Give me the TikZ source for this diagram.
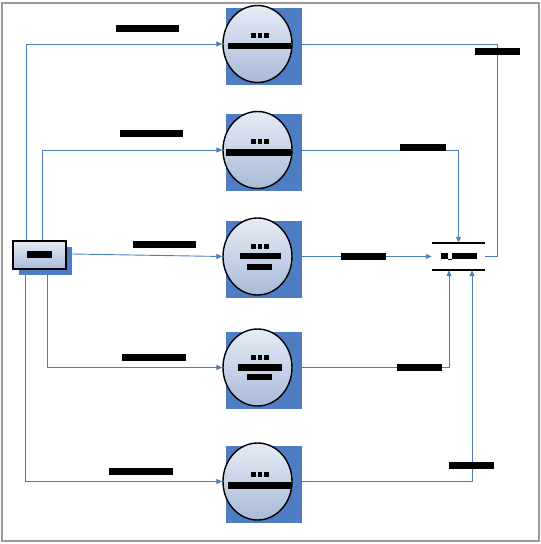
\documentclass[tikz,border=0pt]{standalone}
\usetikzlibrary{arrows.meta,shapes.geometric}
\definecolor{flow}{HTML}{4A7EBB}
\definecolor{shadowblue}{HTML}{4F7DC4}
\definecolor{ctop}{HTML}{E6ECF5}
\definecolor{cbot}{HTML}{A8BAD8}
\definecolor{framegray}{HTML}{9A9A9A}
\newcommand{\pmark}{\rule{4.5pt}{5pt}.\rule{4.5pt}{5pt}.\rule{4.5pt}{5pt}}
\begin{document}
\begin{tikzpicture}[x=1pt,y=-1pt,
  flowline/.style={draw=flow, line width=0.9pt},
  arr/.style={flowline, -{Triangle[length=6pt,width=5pt]}},
  proc/.style={ellipse, draw=black, line width=1.4pt, top color=ctop, bottom color=cbot,
    minimum width=69pt, minimum height=77pt, inner sep=0},
  shadowsq/.style={rectangle, fill=shadowblue, minimum width=76pt, minimum height=77pt, inner sep=0},
  srcbox/.style={rectangle, draw=black, line width=1.8pt, top color=ctop, bottom color=cbot,
    minimum width=53pt, minimum height=28pt, inner sep=0},
  srcshadow/.style={rectangle, fill=shadowblue, minimum width=53pt, minimum height=28pt, inner sep=0},
  bar/.style={rectangle, fill=black, inner sep=0, minimum height=7pt},
  num/.style={inner sep=0, font=\tiny},
  storebox/.style={rectangle, inner sep=0, minimum width=53pt, minimum height=27pt},
  storeline/.style={draw=black, line width=1.6pt},
]
\useasboundingbox (0,0) rectangle (541,544);
\draw[framegray, line width=1.2pt] (2,3) rectangle (539,541);

% source
\node[srcshadow] (srcsh) at (45.5,261) {};
\node[srcbox] (src) at (39.5,255) {};
\node[bar, minimum width=25pt] (srclab) at (39.5,254.5) {};

% processes
\node[shadowsq] (s1) at (264,46) {};
\node[proc] (p1) at (257.5,44) {};
\node[shadowsq] (s2) at (264,152) {};
\node[proc] (p2) at (257.5,150) {};
\node[shadowsq] (s3) at (264,259) {};
\node[proc] (p3) at (257.5,256.5) {};
\node[shadowsq] (s4) at (264,370) {};
\node[proc] (p4) at (257.5,367.5) {};
\node[shadowsq] (s5) at (264,484) {};
\node[proc] (p5) at (257.5,481.5) {};

\node[num] (n1) at (260,35) {\pmark};
\node[bar, minimum width=63pt, minimum height=6pt] (t1) at (259.5,46) {};
\node[num] (n2) at (260,141) {\pmark};
\node[bar, minimum width=65pt] (t2) at (258.5,152.5) {};
\node[num] (n3) at (260,246) {\pmark};
\node[bar, minimum width=41pt, minimum height=6pt] (t3a) at (260.5,256) {};
\node[bar, minimum width=25pt, minimum height=6pt] (t3b) at (259.5,266.5) {};
\node[num] (n4) at (260,357) {\pmark};
\node[bar, minimum width=44pt] (t4a) at (260,367.5) {};
\node[bar, minimum width=25pt, minimum height=6pt] (t4b) at (259.5,377) {};
\node[num] (n5) at (260,474) {\pmark};
\node[bar, minimum width=63pt] (t5) at (259.5,485.5) {};

% data store
\node[storebox] (store) at (458.5,256.5) {};
\draw[storeline] (store.north west) -- (store.north east);
\draw[storeline] (store.south west) -- (store.south east);
\node[inner sep=0] (storelab) at (458.5,256) {\rule{7pt}{6pt}\rule[-0.6pt]{4pt}{0.8pt}\rule{25pt}{6pt}};

% input flows
\coordinate (a1) at ([xshift=14pt]src.north west);
\coordinate (a2) at ([xshift=30pt]src.north west);
\coordinate (a4) at ([xshift=29pt]srcsh.south west);
\coordinate (a5) at ([xshift=7pt]srcsh.south west);
\coordinate (a3) at ([yshift=7pt]srcsh.east);
\draw[arr] (a1) |- (p1.west);
\draw[arr] (a2) |- (p2.west);
\draw[arr] (a3) -- (p3.west);
\draw[arr] (a4) |- (p4.west);
\draw[arr] (a5) |- (p5.west);

% output flows
\draw[flowline] (s1.east |- p1) -| ([xshift=12pt]store.east) -- (store.east);
\draw[arr] (s2.east |- p2) -| (store.north);
\draw[arr] (s3.east |- p3) -- (store.west);
\draw[arr] (s4.east |- p4) -| ([xshift=-9.5pt]store.south);
\draw[arr] (s5.east |- p5) -| ([xshift=13.5pt]store.south);

% flow labels
\node[bar, minimum width=63pt] (l1) at (147.5,28) {};
\node[bar, minimum width=45pt] (l1r) at (497.5,51.5) {};
\node[bar, minimum width=63pt] (l2) at (151.5,133.5) {};
\node[bar, minimum width=46pt] (l2r) at (423,147.5) {};
\node[bar, minimum width=63pt] (l3) at (164.5,244.5) {};
\node[bar, minimum width=45pt] (l3r) at (363.5,256.5) {};
\node[bar, minimum width=64pt] (l4) at (154,357.5) {};
\node[bar, minimum width=45pt] (l4r) at (419.5,367.5) {};
\node[bar, minimum width=64pt] (l5) at (141,471) {};
\node[bar, minimum width=45pt] (l5r) at (471.5,465.5) {};
\end{tikzpicture}
\end{document}
